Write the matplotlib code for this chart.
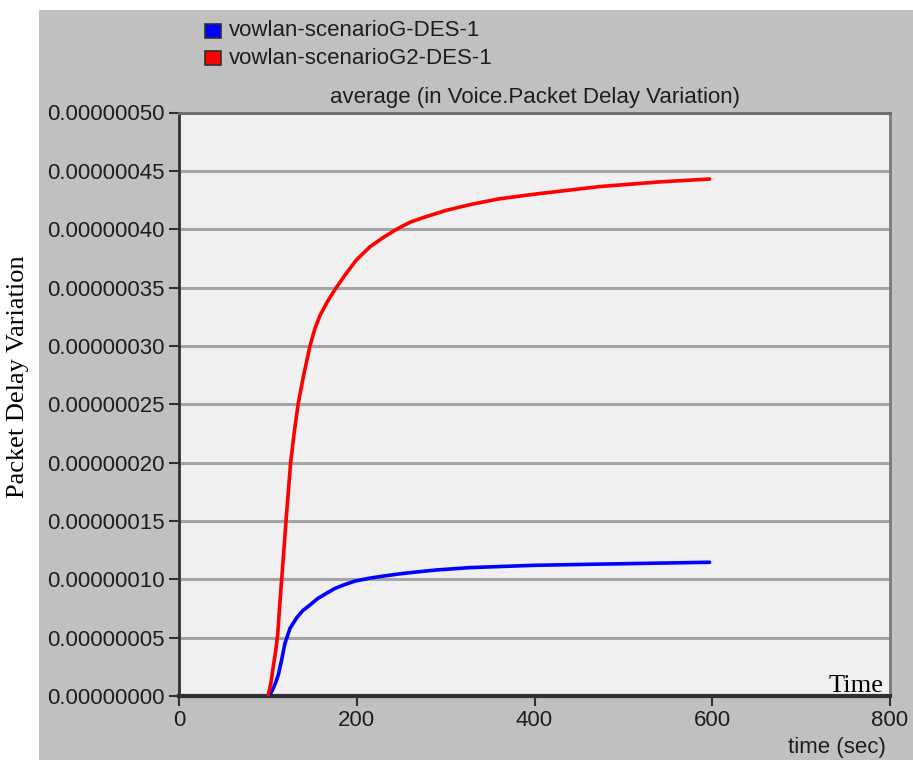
import matplotlib
matplotlib.use("Agg")
import matplotlib.pyplot as plt
from matplotlib.patches import Rectangle

# ---- data ----
series_names = ["vowlan-scenarioG-DES-1", "vowlan-scenarioG2-DES-1"]
series_colors = ["#0000ff", "#ff0000"]

blue_t = [100, 103, 106, 109, 111.7, 115.5, 119.2, 124.9, 132.4, 139, 147.4, 156, 166, 175,
          184.8, 198, 214.8, 232, 252, 270, 289.8, 327, 400, 473, 597]
blue_v = [0, 0.02e-7, 0.066e-7, 0.12e-7, 0.18e-7, 0.31e-7, 0.45e-7, 0.58e-7, 0.67e-7, 0.73e-7,
          0.78e-7, 0.835e-7, 0.88e-7, 0.92e-7, 0.95e-7, 0.985e-7, 1.01e-7, 1.03e-7, 1.05e-7,
          1.065e-7, 1.08e-7, 1.10e-7, 1.12e-7, 1.13e-7, 1.146e-7]

red_t = [100, 102, 104, 106, 108.5, 111, 113, 115.5, 118, 120.4, 123, 125.6, 129.5, 134, 140,
         147.4, 153, 158.6, 167, 177, 188, 200, 215, 230, 245, 260, 275, 300, 327, 360, 400,
         473, 540, 597]
red_v = [0, 0.06e-7, 0.14e-7, 0.25e-7, 0.37e-7, 0.52e-7, 0.74e-7, 1.0e-7, 1.25e-7, 1.5e-7,
         1.75e-7, 2.0e-7, 2.25e-7, 2.5e-7, 2.74e-7, 3.0e-7, 3.15e-7, 3.26e-7, 3.38e-7, 3.5e-7,
         3.62e-7, 3.74e-7, 3.85e-7, 3.93e-7, 4.0e-7, 4.06e-7, 4.1e-7, 4.16e-7, 4.21e-7, 4.26e-7,
         4.30e-7, 4.365e-7, 4.405e-7, 4.43e-7]

y_ticks = [0, 0.5e-7, 1.0e-7, 1.5e-7, 2.0e-7, 2.5e-7, 3.0e-7, 3.5e-7, 4.0e-7, 4.5e-7, 5.0e-7]
y_tick_labels = ["0.00000000", "0.00000005", "0.00000010", "0.00000015", "0.00000020",
                 "0.00000025", "0.00000030", "0.00000035", "0.00000040", "0.00000045",
                 "0.00000050"]
x_ticks = [0, 200, 400, 600, 800]
x_tick_labels = ["0", "200", "400", "600", "800"]

title = "average (in Voice.Packet Delay Variation)"
x_label = "time (sec)"
y_label = "Packet Delay Variation"
corner_label = "Time"

# ---- figure ----
W, H = 913, 760
fig = plt.figure(figsize=(W / 100, H / 100), dpi=100)
fig.patch.set_facecolor("white")

def fx(x):
    return x / W

def fy(y):
    return 1 - y / H

SANS = "Liberation Sans"
SERIF = "Liberation Serif"
TXT = "#1e1e1e"
FS = 16

# outer gray panel
fig.patches.append(Rectangle((fx(39), 0), 1 - fx(39), fy(10), transform=fig.transFigure,
                             facecolor="#c0c0c0", edgecolor="none", zorder=-5))

left, right, top, bottom = 179, 890, 112.5, 696
ax = fig.add_axes([fx(left), fy(bottom), (right - left) / W, (bottom - top) / H])
ax.set_zorder(1)
ax.set_facecolor("#f0f0f0")

ax.plot(blue_t, blue_v, color=series_colors[0], lw=2.6, solid_capstyle="round",
        solid_joinstyle="round", zorder=3)
ax.plot(red_t, red_v, color=series_colors[1], lw=2.6, solid_capstyle="round",
        solid_joinstyle="round", zorder=3)

ax.set_xlim(0, 800)
ax.set_ylim(0, 5e-7)
ax.set_yticks(y_ticks)
ax.set_yticklabels(y_tick_labels, fontfamily=SANS, fontsize=FS, color=TXT)
ax.set_xticks(x_ticks)
ax.set_xticklabels(x_tick_labels, fontfamily=SANS, fontsize=FS, color=TXT)
ax.tick_params(axis="both", direction="out", length=7, width=1.5, color="#303030", pad=3)
ax.yaxis.grid(True, color="#a4a4a4", lw=2.2)
ax.set_axisbelow(True)

for s in ["left", "bottom"]:
    ax.spines[s].set_color("#303030")
ax.spines["left"].set_linewidth(2)
ax.spines["bottom"].set_linewidth(3)
ax.spines["top"].set_color("#6a6a6a")
ax.spines["top"].set_linewidth(2)
ax.spines["right"].set_color("#7a7a7a")
ax.spines["right"].set_linewidth(2)

# title
fig.text(fx(535), fy(97), title, ha="center", va="center", fontfamily=SANS, fontsize=FS, color=TXT)
# x label
fig.text(fx(886), fy(748), x_label, ha="right", va="center", fontfamily=SANS, fontsize=FS, color=TXT)
# y label
fig.text(fx(18), fy(377), y_label, ha="center", va="center", rotation=90,
         fontfamily=SERIF, fontsize=19, color="black")
# corner text
fig.text(fx(884), fy(692), corner_label, ha="right", va="baseline",
         fontfamily=SERIF, fontsize=19, color="black", zorder=10)

# legend
for i, (name, col) in enumerate(zip(series_names, series_colors)):
    yc = 31 + 27 * i
    fig.patches.append(Rectangle((fx(205), fy(yc + 7)), 16 / W, 14 / H, transform=fig.transFigure,
                                 facecolor=col, edgecolor="#303030", lw=1.2, zorder=2))
    fig.text(fx(229), fy(yc), name, ha="left", va="center", fontfamily=SANS, fontsize=FS, color=TXT)

fig.savefig("out.png", dpi=100, facecolor=fig.get_facecolor())
